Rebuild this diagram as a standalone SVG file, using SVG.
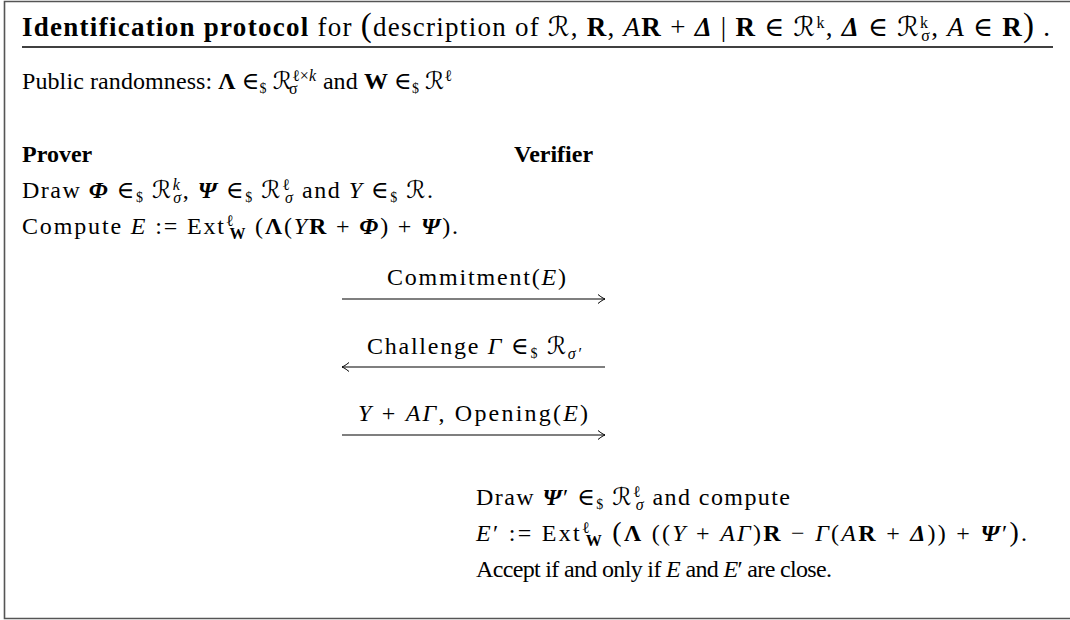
<svg xmlns="http://www.w3.org/2000/svg" width="1070" height="620" viewBox="0 0 1070 620">
<style>
.f{font-family:"Liberation Serif","DejaVu Serif","DejaVu Sans",serif;font-size:24px;fill:#000}
.ti{font-size:27px}
.b{font-weight:bold}
.i{font-style:italic}
.bi{font-weight:bold;font-style:italic}
.sp{font-size:16px;baseline-shift:8px}
.sb{font-size:16px;baseline-shift:-5px}
.dl{font-size:14px;baseline-shift:-4px}
.msg{stroke:#000;stroke-width:1.1;fill:none}
</style>
<defs>
<marker id="ah" markerUnits="userSpaceOnUse" viewBox="-9 -6 10 12" refX="0" refY="0" markerWidth="10" markerHeight="12" orient="auto">
<path d="M-7,-4.5 C-4,-2 -1.5,-0.6 0,0 C-1.5,0.6 -4,2 -7,4.5" fill="none" stroke="#000" stroke-width="1"/>
</marker>
</defs>
<rect width="1070" height="620" fill="#fff"/>
<g id="frame">
<path d="M1070,1.5 H4.5 V618.5 H1070" fill="none" stroke="#555" stroke-width="1.6"/>
</g>
<g id="header">
<text class="f ti" x="22" y="36" textLength="1028" lengthAdjust="spacing"><tspan class="b">Identification protocol</tspan> for <tspan font-size="33">(</tspan>description of ℛ, <tspan class="b">R</tspan>, <tspan class="i">A</tspan><tspan class="b">R</tspan>&#8197;+&#8197;<tspan class="bi">Δ</tspan> | <tspan class="b">R</tspan>&#8197;∈&#8197;ℛ<tspan class="sp">k</tspan>, <tspan class="bi">Δ</tspan>&#8197;∈&#8197;ℛ<tspan class="sp">k</tspan><tspan class="sb" dx="-8">σ</tspan>, <tspan class="i">A</tspan>&#8197;∈&#8197;<tspan class="b">R</tspan><tspan font-size="33">)</tspan> .</text>
<line x1="22" y1="47" x2="1053" y2="47" stroke="#000" stroke-width="1.3"/>
<text class="f" x="22" y="89" textLength="430" lengthAdjust="spacing">Public randomness: <tspan class="b">Λ</tspan> ∈<tspan class="dl">$</tspan> ℛ<tspan class="sp">ℓ×<tspan class="i">k</tspan></tspan><tspan class="sb" dx="-27">σ</tspan><tspan dx="19"> and </tspan><tspan class="b">W</tspan> ∈<tspan class="dl">$</tspan> ℛ<tspan class="sp">ℓ</tspan></text>
</g>
<g id="prover">
<text class="f b" x="22" y="162">Prover</text>
<text class="f" x="22" y="198" textLength="411" lengthAdjust="spacing">Draw <tspan class="bi">Φ</tspan>&#8197;∈<tspan class="dl">$</tspan> ℛ<tspan class="sp i">k</tspan><tspan class="sb i" dx="-8">σ</tspan>, <tspan class="bi">Ψ</tspan>&#8197;∈<tspan class="dl">$</tspan> ℛ<tspan class="sp">ℓ</tspan><tspan class="sb i" dx="-6">σ</tspan> and <tspan class="i">Y</tspan>&#8197;∈<tspan class="dl">$</tspan> ℛ.</text>
<text class="f" x="22" y="234" textLength="436" lengthAdjust="spacing">Compute <tspan class="i">E</tspan>&#8197;:=&#8197;Ext<tspan class="sp">ℓ</tspan><tspan class="sb b" dx="-6">W</tspan> (<tspan class="b">Λ</tspan>(<tspan class="i">Y</tspan><tspan class="b">R</tspan>&#8197;+&#8197;<tspan class="bi">Φ</tspan>)&#8197;+&#8197;<tspan class="bi">Ψ</tspan>).</text>
</g>
<g id="verifier">
<text class="f b" x="514" y="162">Verifier</text>
<text class="f" x="476" y="505" textLength="314" lengthAdjust="spacing">Draw <tspan class="bi">Ψ</tspan>′&#8197;∈<tspan class="dl">$</tspan> ℛ<tspan class="sp">ℓ</tspan><tspan class="sb i" dx="-6">σ</tspan> and compute</text>
<text class="f" x="476" y="541" textLength="551" lengthAdjust="spacing"><tspan class="i">E</tspan>′&#8197;:=&#8197;Ext<tspan class="sp">ℓ</tspan><tspan class="sb b" dx="-6">W</tspan> <tspan font-size="28">(</tspan><tspan class="b">Λ</tspan> ((<tspan class="i">Y</tspan>&#8197;+&#8197;<tspan class="i">AΓ</tspan>)<tspan class="b">R</tspan>&#8197;−&#8197;<tspan class="i">Γ</tspan>(<tspan class="i">A</tspan><tspan class="b">R</tspan>&#8197;+&#8197;<tspan class="bi">Δ</tspan>))&#8197;+&#8197;<tspan class="bi">Ψ</tspan>′<tspan font-size="28">)</tspan>.</text>
<text class="f" x="476" y="577" textLength="356" lengthAdjust="spacing">Accept if and only if <tspan class="i">E</tspan> and <tspan class="i">E</tspan>′ are close.</text>
</g>
<g id="connectors">
<line class="msg" x1="342" y1="299" x2="605" y2="299" marker-end="url(#ah)"/>
<text class="f" x="387" y="285" textLength="179" lengthAdjust="spacing">Commitment(<tspan class="i">E</tspan>)</text>
<line class="msg" x1="605" y1="367" x2="342" y2="367" marker-end="url(#ah)"/>
<text class="f" x="367" y="354" textLength="214" lengthAdjust="spacing">Challenge <tspan class="i">Γ</tspan>&#8197;∈<tspan class="dl">$</tspan> ℛ<tspan class="sb i">σ′</tspan></text>
<line class="msg" x1="342" y1="435" x2="605" y2="435" marker-end="url(#ah)"/>
<text class="f" x="358" y="421" textLength="230" lengthAdjust="spacing"><tspan class="i">Y</tspan>&#8197;+&#8197;<tspan class="i">AΓ</tspan>, Opening(<tspan class="i">E</tspan>)</text>
</g>
</svg>
